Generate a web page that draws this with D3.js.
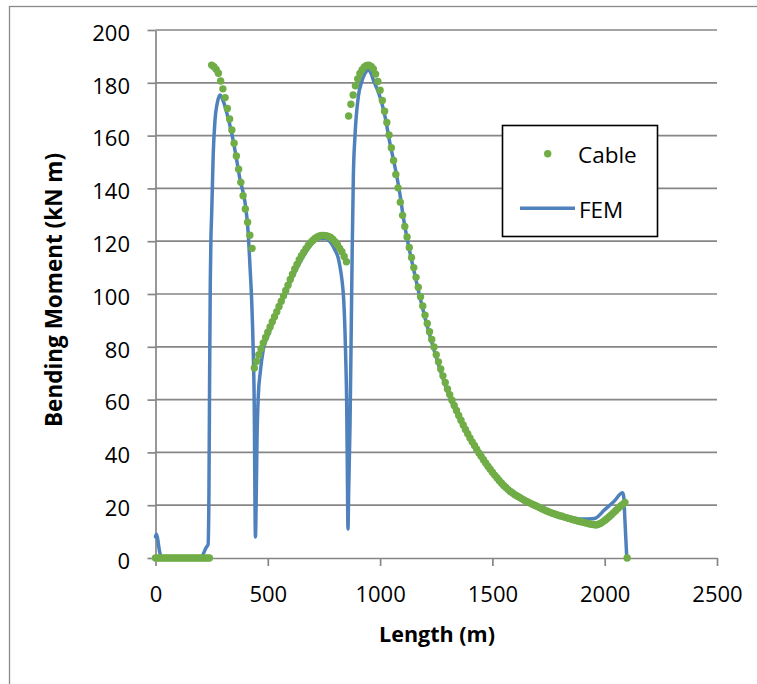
<!DOCTYPE html>
<html>
<head>
<meta charset="utf-8">
<script src="https://cdn.jsdelivr.net/npm/d3@7/dist/d3.min.js"></script>
<style>
  html, body { margin: 0; padding: 0; background: #fff; }
  svg { display: block; }
</style>
</head>
<body>
<svg id="chart" width="757" height="684"></svg>
<script>
// Cable solution: bending moment (kN m) sampled along the length (m)
const cableLength = [
  0, 10, 20, 30, 40, 50, 60, 70, 80, 90,
  100, 110, 120, 130, 140, 150, 160, 170, 180, 190,
  200, 210, 220, 230, 240, 250, 260, 270, 280, 290,
  300, 310, 320, 330, 340, 350, 360, 370, 380, 390,
  400, 410, 420, 430, 440, 450, 460, 470, 480, 490,
  500, 510, 520, 530, 540, 550, 560, 570, 580, 590,
  600, 610, 620, 630, 640, 650, 660, 670, 680, 690,
  700, 710, 720, 730, 740, 750, 760, 770, 780, 790,
  800, 810, 820, 830, 840, 850, 860, 870, 880, 890,
  900, 910, 920, 930, 940, 950, 960, 970, 980, 990,
  1000, 1010, 1020, 1030, 1040, 1050, 1060, 1070, 1080, 1090,
  1100, 1110, 1120, 1130, 1140, 1150, 1160, 1170, 1180, 1190,
  1200, 1210, 1220, 1230, 1240, 1250, 1260, 1270, 1280, 1290,
  1300, 1310, 1320, 1330, 1340, 1350, 1360, 1370, 1380, 1390,
  1400, 1410, 1420, 1430, 1440, 1450, 1460, 1470, 1480, 1490,
  1500, 1510, 1520, 1530, 1540, 1550, 1560, 1570, 1580, 1590,
  1600, 1610, 1620, 1630, 1640, 1650, 1660, 1670, 1680, 1690,
  1700, 1710, 1720, 1730, 1740, 1750, 1760, 1770, 1780, 1790,
  1800, 1810, 1820, 1830, 1840, 1850, 1860, 1870, 1880, 1890,
  1900, 1910, 1920, 1930, 1940, 1950, 1960, 1970, 1980, 1990,
  2000, 2010, 2020, 2030, 2040, 2050, 2060, 2070, 2080, 2090,
  2100
];
const cableMoment = [
  0, 0, 0, 0, 0, 0, 0, 0, 0, 0,
  0, 0, 0, 0, 0, 0, 0, 0, 0, 0,
  0, 0, 0, 0, 0, 186.7, 186.1, 185.1, 183.6, 180.7,
  177.7, 174.4, 170.3, 166.3, 162.1, 157.1, 152.3, 147.3, 142.3, 137.2,
  132.2, 127.2, 122.3, 117.3, 72, 74.5, 77, 79.3, 81.5, 83.5,
  85.5, 87.5, 89.5, 91.4, 93.3, 95.3, 97.3, 99.3, 101.3, 103.3,
  105.5, 107.5, 109.5, 111.2, 113, 114.5, 115.8, 117.2, 118.4, 119.4,
  120.3, 121, 121.6, 122, 122.2, 122.2, 122.1, 121.8, 121.4, 120.7,
  119.7, 118.7, 117.3, 116, 114.2, 112.2, 167.4, 171.9, 175.4, 178.9,
  181.5, 183.5, 185, 186, 186.6, 186.7, 186.2, 185.2, 183.3, 180.5,
  177.2, 173.3, 169.2, 165, 160.2, 155.4, 150.6, 145.3, 140.2, 134.8,
  129.8, 125.6, 121.6, 117.6, 113.8, 110, 106.3, 102.6, 99, 95.5,
  92, 88.8, 85.7, 82.8, 79.9, 77, 74.3, 71.6, 69, 66.5,
  64, 61.9, 59.8, 57.8, 55.9, 54, 52.2, 50.4, 48.7, 47.1,
  45.5, 44, 42.6, 41.2, 39.8, 38.5, 37.2, 36, 34.8, 33.6,
  32.5, 31.4, 30.4, 29.4, 28.4, 27.5, 26.7, 25.9, 25.2, 24.6,
  24, 23.5, 23, 22.5, 22, 21.5, 21.1, 20.7, 20.3, 19.9,
  19.5, 19.1, 18.7, 18.3, 17.9, 17.5, 17.2, 16.9, 16.6, 16.3,
  16, 15.8, 15.5, 15.3, 15, 14.8, 14.5, 14.3, 14, 13.8,
  13.6, 13.4, 13.2, 13, 12.8, 12.7, 12.5, 12.7, 13.1, 13.6,
  14.2, 14.9, 15.6, 16.4, 17.2, 18, 18.8, 19.6, 20.3, 21,
  0
];

// FEM solution: bending moment (kN m) at the plotted stations (m)
const femLength = [
  0, 4, 9, 18, 28, 205, 215, 226, 234, 238,
  241, 244, 247, 250, 257, 265, 275, 287, 300, 314,
  339, 361, 376, 398, 413, 421, 428, 435, 440, 443,
  445, 448, 452, 458, 466, 480, 500, 550, 600, 650,
  700, 732, 760, 777, 799, 814, 824, 832, 838, 844,
  848, 851, 854, 857, 860, 866, 872, 876, 881, 888,
  903, 918, 932, 947, 960, 970, 985, 1000, 1022, 1044,
  1066, 1088, 1103, 1150, 1200, 1250, 1300, 1350, 1400, 1450,
  1500, 1550, 1600, 1650, 1700, 1750, 1800, 1850, 1900, 1955,
  2000, 2040, 2080, 2085, 2090, 2098
];
const femMoment = [
  8, 9, 7.5, 2.5, 0, 0, 2, 4, 5, 25,
  70, 105, 122, 130, 153, 166, 172.3, 175.4, 173.5, 169.7,
  161, 151, 143.5, 135, 123, 110, 98, 79, 55, 20,
  8, 20, 45, 62, 70, 79, 84, 95, 104.5, 113,
  119.3, 121, 121, 119.8, 116.7, 113.5, 109, 104, 97.7, 85,
  72.5, 60, 35, 11, 25, 50, 90, 118, 145, 159.6,
  174.7, 180.4, 183.5, 184.8, 183.5, 181, 178, 174.5, 167.2, 157,
  148.2, 138, 129.3, 109, 91, 76, 63, 53, 45, 38,
  32, 27.2, 23.8, 21.3, 19.4, 17.6, 16.3, 15.3, 14.8, 15,
  18.3, 21.3, 24.7, 23, 14.4, 0.5
];

// Axis ticks
const xTicks = [0, 500, 1000, 1500, 2000, 2500];
const yTicks = [0, 20, 40, 60, 80, 100, 120, 140, 160, 180, 200];

const seriesNames = ["Cable", "FEM"];
const cableColor = "#70AD47";
const femColor = "#4F81BD";
const gridColor = "#868686";
const font = "'Open Sans', 'Noto Sans', sans-serif";

const svg = d3.select("#chart");

// Chart area frame
svg.append("rect")
  .attr("x", 9.5).attr("y", 6.5)
  .attr("width", 800).attr("height", 720)
  .attr("fill", "#fff")
  .attr("stroke", "#8a8a8a").attr("stroke-width", 1.3);

const x = d3.scaleLinear().domain([0, 2500]).range([155.5, 717]);
const y = d3.scaleLinear().domain([0, 200]).range([558, 30]);

// Horizontal gridlines
svg.append("g")
  .selectAll("line")
  .data(yTicks.filter(d => d > 0))
  .join("line")
  .attr("x1", x(0)).attr("x2", x(2500))
  .attr("y1", d => y(d)).attr("y2", d => y(d))
  .attr("stroke", gridColor).attr("stroke-width", 1.7);

// Y axis
const yAxis = svg.append("g")
  .attr("transform", `translate(${x(0)},0)`)
  .call(d3.axisLeft(y).tickValues(yTicks).tickFormat(d3.format("d"))
    .tickSize(8).tickSizeOuter(0).tickPadding(17.5));
// X axis
const xAxis = svg.append("g")
  .attr("transform", `translate(0,${y(0)})`)
  .call(d3.axisBottom(x).tickValues(xTicks).tickFormat(d3.format("d"))
    .tickSize(8).tickSizeOuter(0).tickPadding(20.4));

[yAxis, xAxis].forEach(g => {
  g.select(".domain").attr("stroke", gridColor).attr("stroke-width", 1.7);
  g.selectAll(".tick line").attr("stroke", gridColor).attr("stroke-width", 1.7);
  g.selectAll(".tick text")
    .attr("fill", "#000")
    .style("font-family", font)
    .style("font-size", "22px");
});
yAxis.selectAll(".tick text").attr("dy", "0.47em");

// Axis titles
svg.append("text")
  .attr("x", 437).attr("y", 641.7)
  .attr("text-anchor", "middle")
  .style("font-family", font).style("font-size", "21.5px").style("font-weight", "bold")
  .text("Length (m)");

svg.append("text")
  .attr("transform", "translate(62,290) rotate(-90)")
  .attr("text-anchor", "middle")
  .style("font-family", font).style("font-size", "22.5px").style("font-weight", "bold")
  .text("Bending Moment (kN m)");

// FEM line
const femData = femLength.map((d, i) => [d, femMoment[i]]);
const line = d3.line()
  .x(d => x(d[0]))
  .y(d => y(d[1]))
  .curve(d3.curveMonotoneX);

svg.append("path")
  .datum(femData)
  .attr("d", line)
  .attr("fill", "none")
  .attr("stroke", femColor)
  .attr("stroke-width", 3.5)
  .attr("stroke-linejoin", "round")
  .attr("stroke-linecap", "round");

// Cable markers
const cableData = cableLength.map((d, i) => [d, cableMoment[i]]);
svg.append("g")
  .selectAll("circle")
  .data(cableData)
  .join("circle")
  .attr("cx", d => x(d[0]))
  .attr("cy", d => y(d[1]))
  .attr("r", 3.7)
  .attr("fill", cableColor);

// Legend
const legend = svg.append("g");
legend.append("rect")
  .attr("x", 502.5).attr("y", 125.5)
  .attr("width", 155).attr("height", 111)
  .attr("fill", "#fff")
  .attr("stroke", "#000").attr("stroke-width", 1.6);
legend.append("circle")
  .attr("cx", 547.7).attr("cy", 153.7).attr("r", 3.7)
  .attr("fill", cableColor);
legend.append("line")
  .attr("x1", 520).attr("x2", 575)
  .attr("y1", 208.3).attr("y2", 208.3)
  .attr("stroke", femColor).attr("stroke-width", 3.5);
legend.selectAll("text.label")
  .data(seriesNames)
  .join("text")
  .attr("class", "label")
  .attr("x", (d, i) => i === 0 ? 578 : 579)
  .attr("y", (d, i) => i === 0 ? 162.7 : 218)
  .style("font-family", font).style("font-size", "22.5px")
  .attr("fill", "#000")
  .text(d => d);
</script>
</body>
</html>
